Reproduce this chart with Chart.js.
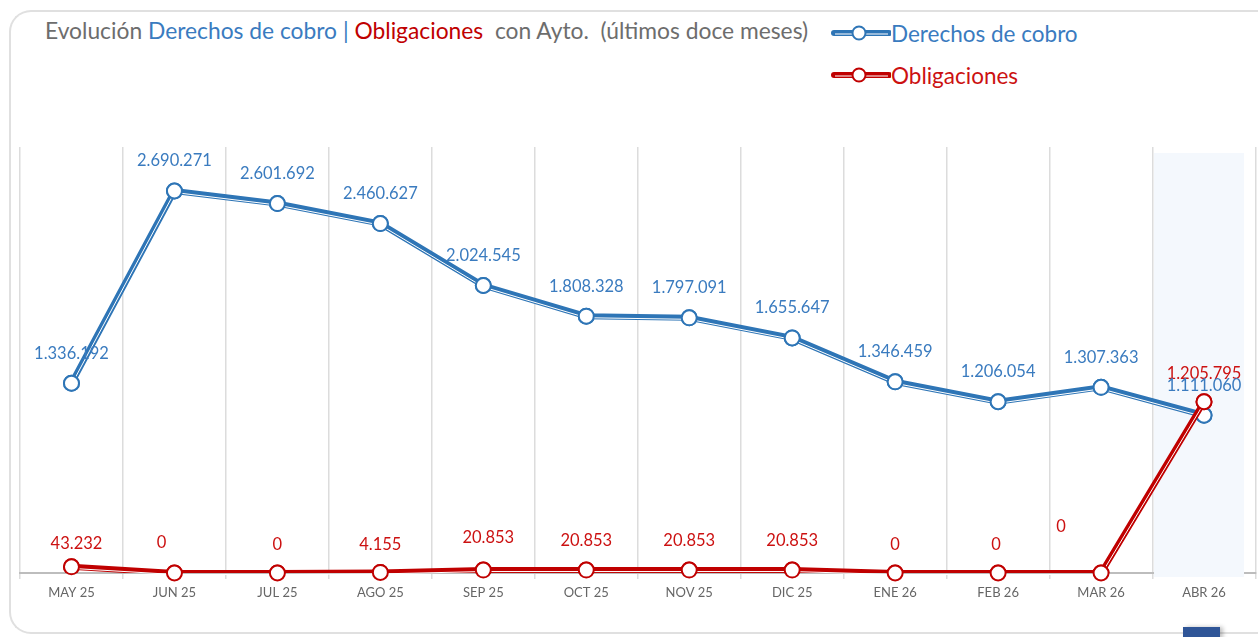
<!DOCTYPE html>
<html>
<head>
<meta charset="UTF-8">
<title>Evolución Derechos de cobro | Obligaciones</title>
<script src="https://cdn.jsdelivr.net/npm/chart.js"></script>
<style>
    html, body { margin: 0; padding: 0; background: #fff; overflow: hidden; }
    body { width: 1258px; height: 637px; position: relative; font-family: Lato, "Open Sans", sans-serif; }
    #card {
        position: absolute; left: 9px; top: 10px; width: 1249px; height: 624px;
        border: 2px solid #e0e0e0; border-right: none; border-radius: 22px 0 0 22px; box-sizing: border-box;
    }
    #title {
        position: absolute; left: 45px; top: 16px; font-size: 22.8px; color: #6d6d6d; white-space: pre;
    }
    .blue { color: #3a7bbf; }
    .red { color: #c00000; }
    #legend { position: absolute; left: 831px; top: 18px; }
    .item { display: flex; align-items: center; height: 30px; margin-bottom: 12px; font-size: 22.5px; }
    #chartCanvas { position: absolute; left: 0; top: 0; }
    #btn { position: absolute; left: 1183px; top: 627px; width: 37px; height: 12px; background: #2f5597; box-shadow: 3px 0 4px rgba(0,0,0,0.25); }
</style>
</head>
<body>
<div id="card"></div>
<div id="title">Evolución <span class="blue">Derechos de cobro</span> <span class="blue">|</span> <span class="red">Obligaciones</span>  con Ayto.  (últimos doce meses)</div>
<div id="legend"></div>
<canvas id="chartCanvas" width="1265" height="637"></canvas>
<div id="btn"></div>

<script>
    const months = ['MAY 25', 'JUN 25', 'JUL 25', 'AGO 25', 'SEP 25', 'OCT 25', 'NOV 25', 'DIC 25', 'ENE 26', 'FEB 26', 'MAR 26', 'ABR 26'];
    const derechos = [1336192, 2690271, 2601692, 2460627, 2024545, 1808328, 1797091, 1655647, 1346459, 1206054, 1307363, 1111060];
    const obligaciones = [43232, 0, 0, 4155, 20853, 20853, 20853, 20853, 0, 0, 0, 1205795];

    const BLUE = '#2e75b6';
    const BLUE_TXT = '#3a7bbf';
    const RED = '#c00000';
    const RED_TXT = '#cc1111';

    // label nudges for the red series [dx, dy above point]
    const redLabelShift = [[5, 23], [-13, 30], [0, 28], [0, 28], [5, 32], [0, 29], [0, 29], [0, 29], [0, 28], [-2, 28], [-40, 46], [0, 28]];

    // legend
    const legendBox = document.getElementById('legend');
    [['Derechos de cobro', BLUE, BLUE_TXT], ['Obligaciones', RED, RED_TXT]].forEach(function(s) {
        const div = document.createElement('div');
        div.className = 'item';
        div.style.color = s[2];
        div.innerHTML = '<svg width="60" height="20">' +
            '<line x1="3" y1="10" x2="58" y2="10" stroke="' + s[1] + '" stroke-width="6" stroke-linecap="round"/>' +
            '<line x1="4" y1="11" x2="57" y2="11" stroke="#fff" stroke-width="1"/>' +
            '<circle cx="28" cy="10" r="6.5" fill="#fff" stroke="' + s[1] + '" stroke-width="2"/></svg>' +
            '<span>' + s[0] + '</span>';
        legendBox.appendChild(div);
    });

    const fmt = v => v.toLocaleString('de-DE');

    // light band behind the current month
    const bandPlugin = {
        id: 'band',
        beforeDatasetsDraw(chart) {
            const x = chart.scales.x;
            const cx = x.getPixelForValue(months.length - 1);
            const ctx = chart.ctx;
            ctx.save();
            ctx.fillStyle = '#f4f8fd';
            ctx.fillRect(cx - 50, chart.chartArea.top + 6, 90, chart.chartArea.bottom - chart.chartArea.top - 2);
            ctx.restore();
        }
    };

    // white stripe inside each line, then points again on top
    const stripePlugin = {
        id: 'stripe',
        afterDatasetDraw(chart, args) {
            const meta = args.meta;
            const ctx = chart.ctx;
            ctx.save();
            ctx.strokeStyle = '#ffffff';
            ctx.lineWidth = 1;
            ctx.beginPath();
            meta.data.forEach(function(p, i) {
                if (i === 0) ctx.moveTo(p.x, p.y + 1.5);
                else ctx.lineTo(p.x, p.y + 1.5);
            });
            ctx.stroke();
            meta.data.forEach(function(p) { p.draw(ctx, chart.chartArea); });
            ctx.restore();
        }
    };

    const labelPlugin = {
        id: 'valueLabels',
        afterDatasetsDraw(chart) {
            const ctx = chart.ctx;
            ctx.save();
            ctx.font = '16.5px Lato, "Open Sans", sans-serif';
            ctx.textAlign = 'center';
            ctx.textBaseline = 'middle';
            chart.data.datasets.forEach(function(ds, di) {
                const meta = chart.getDatasetMeta(di);
                meta.data.forEach(function(p, i) {
                    let dx = 0, dy = 30;
                    if (ds.isRed) { dx = redLabelShift[i][0]; dy = redLabelShift[i][1]; }
                    ctx.fillStyle = ds.labelColor;
                    ctx.fillText(fmt(ds.data[i]), p.x + dx, p.y - dy);
                });
            });
            ctx.restore();
        }
    };

    const newChart = new Chart(document.getElementById('chartCanvas'), {
        type: 'line',
        data: {
            labels: months,
            datasets: [
                {
                    label: 'Obligaciones',
                    data: obligaciones,
                    isRed: true,
                    labelColor: RED_TXT,
                    borderColor: RED,
                    borderWidth: 6,
                    pointRadius: 7.5,
                    pointBorderWidth: 2,
                    pointBackgroundColor: '#fff',
                    pointBorderColor: RED,
                    tension: 0,
                    order: 0
                },
                {
                    label: 'Derechos de cobro',
                    data: derechos,
                    labelColor: BLUE_TXT,
                    borderColor: BLUE,
                    borderWidth: 6,
                    pointRadius: 7.5,
                    pointBorderWidth: 2,
                    pointBackgroundColor: '#fff',
                    pointBorderColor: BLUE,
                    tension: 0,
                    order: 1
                }
            ]
        },
        options: {
            responsive: false,
            animation: false,
            layout: { padding: { left: 20, right: 2, top: 147, bottom: 24 } },
            scales: {
                x: {
                    offset: true,
                    grid: { color: '#dcdcdc', lineWidth: 1.5, tickLength: 6, drawTicks: true, offset: true },
                    border: { color: '#bdbdbd', width: 2 },
                    ticks: { color: '#666', font: { family: 'Lato, "Open Sans", sans-serif', size: 13 }, padding: 6, maxRotation: 0 },
                    afterFit(scale) { scale.height = 40; }
                },
                y: {
                    display: false,
                    min: 0,
                    max: 3000000
                }
            },
            plugins: {
                legend: { display: false },
                tooltip: { enabled: false }
            }
        },
        plugins: [bandPlugin, stripePlugin, labelPlugin]
    });
</script>
</body>
</html>
